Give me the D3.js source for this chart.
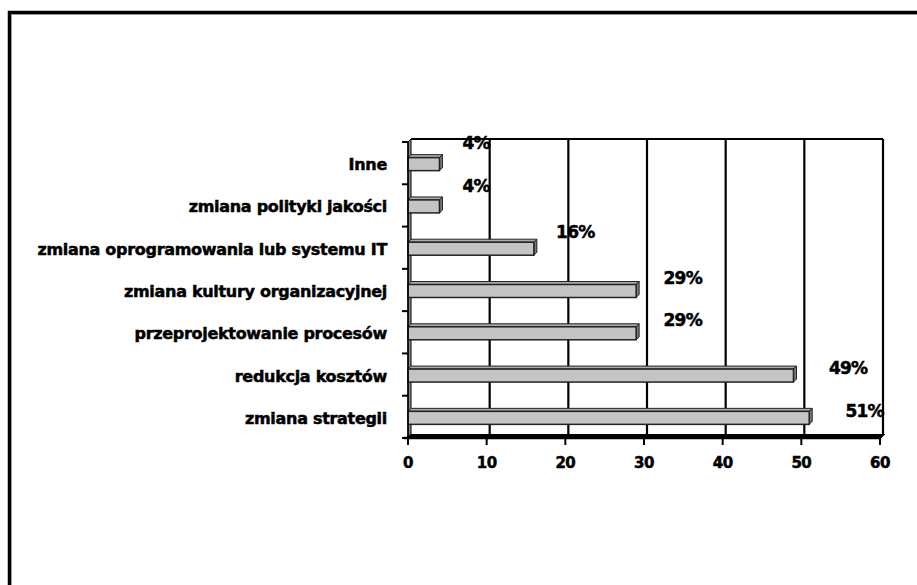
<!DOCTYPE html>
<html><head><meta charset="utf-8">
<script src="https://cdn.jsdelivr.net/npm/d3@7"></script>
<style>body{margin:0;background:#fff}svg{display:block}</style>
</head><body>
<script>
const categories = ["zmiana strategii","redukcja kosztów","przeprojektowanie procesów","zmiana kultury organizacyjnej","zmiana oprogramowania lub systemu IT","zmiana polityki jakości","Inne"];
const values = [51,49,29,29,16,4,4];
const labels = ["51%","49%","29%","29%","16%","4%","4%"];
const xTicks = [0,10,20,30,40,50,60];

(function(){
const W=917,H=585, D=3;
const svg=d3.select("body").append("svg").attr("width",W).attr("height",H);
const font="'DejaVu Sans', sans-serif";

// outer frame
svg.append("rect").attr("x",9.5).attr("y",12.5).attr("width",W+20).attr("height",H+20)
  .attr("fill","#fff").attr("stroke","#000").attr("stroke-width",3.5);
svg.append("path").attr("d",`M11.5,${H} V14.5 H${W}`).attr("fill","none").attr("stroke","#999").attr("stroke-width",1);

const x=d3.scaleLinear().domain([0,60]).range([408,880]);
const y=d3.scaleBand().domain(categories).range([438,142]);
const yTop=142, yBot=438;

const g=svg.append("g");
// left side wall
g.append("path").attr("d",`M${x(0)},${yTop} L${x(0)+D},${yTop-D} L${x(0)+D},${yBot-D} L${x(0)},${yBot} Z`)
  .attr("fill","#8a8a8a").attr("stroke","#000").attr("stroke-width",1);
// floor
g.append("path").attr("d",`M${x(0)},${yBot} L${x(0)+D},${yBot-D} L${x(60)+D},${yBot-D} L${x(60)},${yBot} Z`)
  .attr("fill","#000").attr("stroke","#000").attr("stroke-width",2);
// back wall gridlines
g.selectAll("line.grid").data(xTicks.slice(1)).enter().append("line")
  .attr("x1",d=>x(d)+D).attr("x2",d=>x(d)+D).attr("y1",yTop-D).attr("y2",yBot-D)
  .attr("stroke","#000").attr("stroke-width",2.2);
g.append("line").attr("x1",x(0)+D).attr("x2",x(60)+D).attr("y1",yTop-D).attr("y2",yTop-D)
  .attr("stroke","#000").attr("stroke-width",2.2);

// bars
const bh=13;
const bars=g.selectAll("g.bar").data(categories).enter().append("g");
bars.each(function(c,i){
  const s=d3.select(this);
  const yc=y(c)+y.bandwidth()/2;
  const yt=yc-bh/2+1, yb=yc+bh/2+1;
  const x0=x(0), x1=x(values[i]);
  s.append("path").attr("d",`M${x0},${yt} L${x0+D},${yt-D} L${x1+D},${yt-D} L${x1},${yt} Z`)
    .attr("fill","#a9a9a9").attr("stroke","#222").attr("stroke-width",1);
  s.append("path").attr("d",`M${x1},${yt} L${x1+D},${yt-D} L${x1+D},${yb-D} L${x1},${yb} Z`)
    .attr("fill","#7a7a7a").attr("stroke","#222").attr("stroke-width",1);
  s.append("rect").attr("x",x0).attr("y",yt).attr("width",x1-x0).attr("height",yb-yt)
    .attr("fill","#c4c4c4").attr("stroke","#222").attr("stroke-width",1.5);
});

// front axis
g.append("line").attr("x1",x(0)-4).attr("x2",x(60)).attr("y1",yBot).attr("y2",yBot).attr("stroke","#000").attr("stroke-width",2.5);
g.selectAll("line.xt").data(xTicks).enter().append("line")
  .attr("x1",d=>x(d)).attr("x2",d=>x(d)).attr("y1",yBot).attr("y2",yBot+7).attr("stroke","#000").attr("stroke-width",2);
g.selectAll("text.xt").data(xTicks).enter().append("text")
  .attr("x",d=>x(d)).attr("y",468).attr("text-anchor","middle")
  .attr("font-family",font).attr("font-weight","bold").attr("font-size",15).attr("letter-spacing",-0.5)
  .attr("stroke","#000").attr("stroke-width",0.5).text(d=>d);
// y axis ticks
const yEdges=categories.map(c=>y(c)).concat([yBot]);
g.append("line").attr("x1",x(0)).attr("x2",x(0)).attr("y1",yTop).attr("y2",yBot).attr("stroke","#000").attr("stroke-width",1.5);
g.selectAll("line.yt").data(yEdges).enter().append("line")
  .attr("x1",x(0)-6).attr("x2",x(0)).attr("y1",d=>d).attr("y2",d=>d).attr("stroke","#000").attr("stroke-width",2);
// category labels
g.selectAll("text.cat").data(categories).enter().append("text")
  .attr("x",387).attr("y",c=>y(c)+y.bandwidth()/2+7).attr("text-anchor","end")
  .attr("font-family",font).attr("font-weight","bold").attr("font-size",16).attr("letter-spacing",-0.3)
  .attr("stroke","#000").attr("stroke-width",0.5).text(c=>c);
// data labels
g.selectAll("text.lab").data(categories).enter().append("text")
  .attr("x",(c,i)=>x(values[i])+35+0.4*values[i])
  .attr("y",(c,i)=>y(c)+y.bandwidth()/2-21+0.3*values[i]+6)
  .attr("text-anchor","middle").attr("font-family",font).attr("font-weight","bold").attr("font-size",17).attr("letter-spacing",-0.8)
  .attr("stroke","#000").attr("stroke-width",0.5).text((c,i)=>labels[i]);
})();
</script>
</body></html>
